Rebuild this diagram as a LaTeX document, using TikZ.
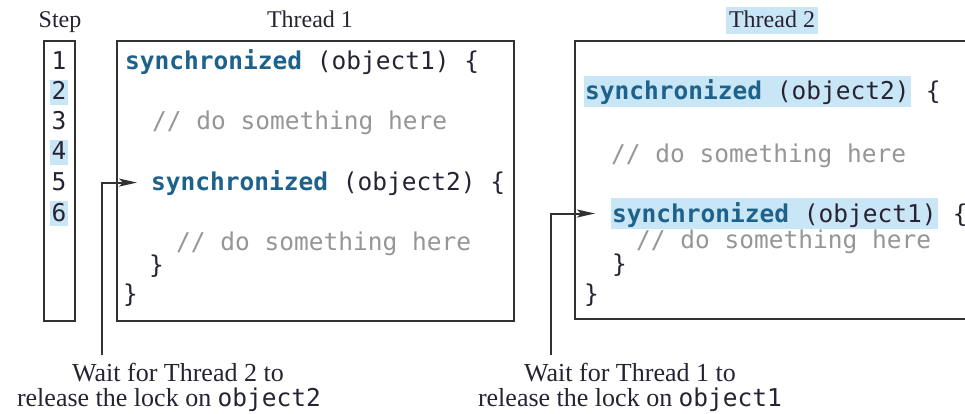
\documentclass[tikz,border=0pt]{standalone}
\usepackage{fontspec}
\setmainfont{Liberation Serif}
\newfontfamily\codefont{DejaVu Sans Mono}
\usetikzlibrary{arrows.meta}
\definecolor{kw}{RGB}{30,98,140}
\definecolor{cm}{RGB}{150,150,150}
\definecolor{tx}{RGB}{40,35,50}
\definecolor{hl}{RGB}{200,230,245}
\definecolor{ln}{RGB}{50,50,50}
\newcommand{\kwd}[1]{\textcolor{kw}{\bfseries #1}}
\begin{document}
\begin{tikzpicture}[x=1pt,y=-1pt,
  lbl/.style={inner sep=0pt,anchor=base,text=tx,font=\fontsize{24}{28}\selectfont},
  capt/.style={inner sep=0pt,anchor=base,text=tx,font=\fontsize{26}{30}\selectfont},
  code/.style={inner sep=0pt,anchor=base west,text=tx,font=\codefont\fontsize{24.5}{28}\selectfont},
  cmt/.style={code,text=cm},
  num/.style={code,anchor=base,inner xsep=2pt,inner ysep=2pt,text height=18pt,text depth=3pt},
  numhl/.style={num,fill=hl},
  codehl/.style={code,fill=hl,inner xsep=1pt,inner ysep=3pt,text height=21pt,text depth=4pt},
  box/.style={draw=ln,line width=2pt,anchor=north west,inner sep=0pt},
  arr/.style={draw=ln,line width=2pt,-{Stealth[length=18pt,width=8pt,inset=4pt]}}]
\useasboundingbox (0,0) rectangle (965,414);
\clip (0,0) rectangle (965,414);
\fill[white] (0,0) rectangle (965,414);

% headings
\node[lbl] (steplbl) at (60,28) {Step};
\node[lbl] (t1lbl) at (310,28) {Thread 1};
\node[lbl,fill=hl,inner xsep=3pt,inner ysep=4pt,text height=17pt,text depth=2pt] (t2lbl) at (772,28) {Thread 2};

% boxes
\node[box,minimum width=31pt,minimum height=280pt] (stepbox) at (43,40) {};
\node[box,minimum width=397pt,minimum height=280pt] (t1box) at (116,40) {};
\node[box,minimum width=410pt,minimum height=278pt] (t2box) at (574,40) {};

% step numbers
\node[num] (n1) at (59,70) {1};
\node[numhl] (n2) at (59,100) {2};
\node[num] (n3) at (59,130) {3};
\node[numhl] (n4) at (59,160) {4};
\node[num] (n5) at (59,190) {5};
\node[numhl] (n6) at (59,221) {6};

% thread 1 code
\node[code] (t1s1) at (125,70) {\kwd{synchronized} (object1) \{};
\node[cmt] (t1c1) at (152,130) {// do something here};
\node[code] (t1s2) at (151,190) {\kwd{synchronized} (object2) \{};
\node[cmt] (t1c2) at (176,250) {// do something here};
\node[code] (t1b1) at (149,273) {\}};
\node[code] (t1b2) at (123,302) {\}};

% thread 2 code
\node[codehl] (t2s1) at (584,100) {\kwd{synchronized} (object2)};
\node[code] (t2s1b) at (t2s1.base east) {\ \{};
\node[cmt] (t2c1) at (611,162) {// do something here};
\node[codehl] (t2s2) at (611,222) {\kwd{synchronized} (object1)};
\node[code] (t2s2b) at (t2s2.base east) {\ \makebox[9pt][l]{\{}};
\node[cmt] (t2c2) at (636,248) {// do something here};
\node[code] (t2b1) at (612,272) {\}};
\node[code] (t2b2) at (584,302) {\}};

% captions
\node[capt] (cap1a) at (178,381) {Wait for Thread 2 to};
\node[capt] (cap1b) at (169,406) {release the lock on {\codefont\fontsize{24.5}{28}\selectfont object2}};
\node[capt] (cap2a) at (630,381) {Wait for Thread 1 to};
\node[capt] (cap2b) at (630,406) {release the lock on {\codefont\fontsize{24.5}{28}\selectfont object1}};

% connectors
\coordinate (a1) at (102,355);
\coordinate (a2) at (551,355);
\draw[arr] (a1) |- ([xshift=-14pt]t1s2.west);
\draw[arr] (a2) |- ([xshift=-16pt]t2s2.west);
\end{tikzpicture}
\end{document}
